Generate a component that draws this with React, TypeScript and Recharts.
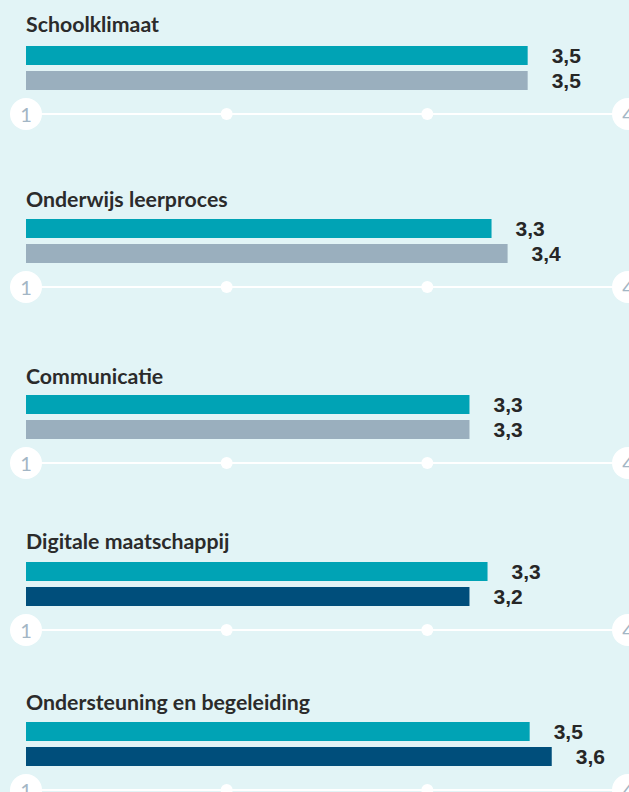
import React from "react";
import { BarChart, Bar, XAxis, YAxis, LabelList } from "recharts";

// thema's (van boven naar onder)
const themes = [
  "Schoolklimaat",
  "Onderwijs leerproces",
  "Communicatie",
  "Digitale maatschappij",
  "Ondersteuning en begeleiding",
];

// bovenste balk (school) en onderste balk (vergelijking)
const schoolValues = [3.5, 3.32, 3.21, 3.3, 3.51];
const compareValues = [3.5, 3.4, 3.21, 3.21, 3.62];
const schoolLabels = ["3,5", "3,3", "3,3", "3,3", "3,5"];
const compareLabels = ["3,5", "3,4", "3,3", "3,2", "3,6"];

const axisTicks = [1, 2, 3, 4];

const BG = "#e2f4f6";
const TEAL = "#00a3b5";
const GRAY = "#9aafbe";
const NAVY = "#004e7b";
const compareFill = [GRAY, GRAY, GRAY, NAVY, NAVY];

// plaats van elk blok op de pagina
const chartTop = [22, 195, 371, 538, 698];
const titleTop = [14, 189, 366, 531, 692];

const W = 629;
const H = 116;

const AxisTick = (props: any) => {
  const { x, y, payload } = props;
  const v = payload.value;
  if (v === 1 || v === 4) {
    return (
      <g>
        <circle cx={x} cy={y} r={16} fill="#fff" />
        <text
          x={x}
          y={y + 8}
          textAnchor="middle"
          fontSize={20}
          fontFamily="Lato"
          fill="#a3b6c5"
        >
          {v}
        </text>
      </g>
    );
  }
  return <circle cx={x} cy={y} r={6} fill="#fff" />;
};

function ThemeChart({ i }: { i: number }) {
  const data = [
    {
      name: themes[i],
      school: schoolValues[i],
      compare: compareValues[i],
      schoolLabel: schoolLabels[i],
      compareLabel: compareLabels[i],
    },
  ];
  const labelStyle = {
    fill: "#262626",
    fontSize: 21,
    fontWeight: 700,
    fontFamily: "Liberation Sans, Arial, sans-serif",
  };
  return (
    <>
      <div
        style={{
          position: "absolute",
          left: 26,
          top: titleTop[i],
          fontFamily: "Lato, sans-serif",
          fontWeight: 700,
          fontSize: 21.3,
          lineHeight: "21px",
          color: "#2b2b2b",
          whiteSpace: "nowrap",
        }}
      >
        {themes[i]}
      </div>
      <div style={{ position: "absolute", left: 0, top: chartTop[i] }}>
        <BarChart
          width={W}
          height={H}
          data={data}
          layout="vertical"
          margin={{ top: 0, right: 1, bottom: 0, left: 26 }}
          barSize={19}
          barGap={6}
        >
          <XAxis
            type="number"
            domain={[1, 4]}
            ticks={axisTicks}
            height={24}
            axisLine={{ stroke: "#fff", strokeWidth: 2 }}
            tickLine={false}
            tickSize={0}
            tickMargin={0}
            tick={<AxisTick />}
            interval={0}
          />
          <YAxis type="category" dataKey="name" hide />
          <Bar dataKey="school" fill={TEAL} isAnimationActive={false}>
            <LabelList dataKey="schoolLabel" position="right" offset={24} style={labelStyle} />
          </Bar>
          <Bar dataKey="compare" fill={compareFill[i]} isAnimationActive={false}>
            <LabelList dataKey="compareLabel" position="right" offset={24} style={labelStyle} />
          </Bar>
        </BarChart>
      </div>
    </>
  );
}

export default function App() {
  return (
    <div
      style={{
        position: "fixed",
        left: 0,
        top: 0,
        width: W,
        height: 792,
        background: BG,
        overflow: "hidden",
      }}
    >
      {themes.map((_, i) => (
        <ThemeChart key={i} i={i} />
      ))}
    </div>
  );
}
